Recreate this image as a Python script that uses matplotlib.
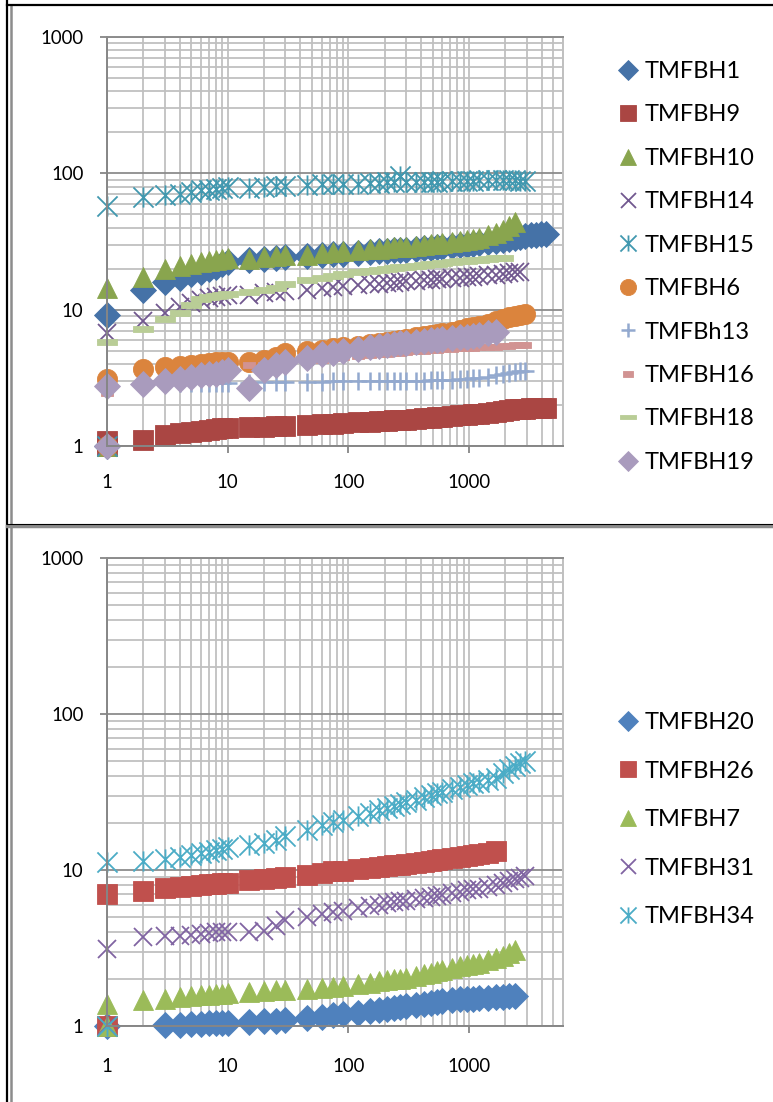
import matplotlib.pyplot as plt
from matplotlib.path import Path
from matplotlib.lines import Line2D
from matplotlib.ticker import FuncFormatter, NullFormatter

plt.rcParams['font.family'] = ['Lato', 'DejaVu Sans']

nan = float('nan')

# tempo; o primeiro ponto e o zero, que o Excel desenha em 1 no eixo log
x = [1, 1, 2, 3, 4, 5, 6, 7, 8, 9, 10,
     15, 20, 25, 30, 45, 60, 75, 90,
     120, 150, 180, 210, 240, 270, 300,
     360, 420, 480, 540, 600,
     720, 840, 960, 1080, 1200,
     1440, 1680, 1920, 2160, 2400, 2640, 2880,
     3240, 3600, 3960, 4320]

# painel de cima
tmfbh1 = [1, 9.2, 14, 16, 17.2, 18.2, 19, 19.8, 20.5, 21.5, 22.5,
          23, 23.5, 24, 24.3, 24.8, 25.2, 25.5, 25.8,
          26.2, 26.5, 26.8, 27, 27.2, 27.4, 27.6,
          27.9, 28.2, 28.4, 28.6, 28.8,
          29.2, 29.6, 30, 30.3, 30.6,
          31.2, 31.8, 32.4, 33, 33.5, 34, 34.5,
          35, 35.5, 35.8, 36]
tmfbh9 = [1, 1.08, 1.1, 1.2, 1.24, 1.27, 1.29, 1.31, 1.33, 1.35, 1.36,
          1.38, 1.39, 1.4, 1.41, 1.43, 1.45, 1.46, 1.48,
          1.5, 1.51, 1.52, 1.53, 1.54, 1.55, 1.56,
          1.58, 1.6, 1.61, 1.62, 1.64,
          1.66, 1.68, 1.7, 1.71, 1.72,
          1.75, 1.78, 1.81, 1.84, 1.86, 1.87, 1.88,
          1.89, 1.9, 1.9, 1.91]
tmfbh10 = [1, 14.5, 17.3, 19.8, 21, 21.8, 22.4, 22.9, 23.3, 23.6, 23.9,
           23.5, 24.3, 24.8, 25.2, 25.3, 26, 26.4, 26.8,
           27.3, 27.7, 28, 28.3, 28.6, 28.8, 29,
           29.4, 29.8, 30.1, 30.4, 30.7,
           31.3, 31.9, 32.5, 33.1, 33.7,
           35, 36.5, 38.5, 41, 44]
tmfbh14 = [1, 6.8, 8.2, 9.5, 10.5, 11.2, 11.7, 12.1, 12.4, 12.6, 12.8,
           12.9, 13.2, 13.5, 13.7, 14, 14.4, 14.6, 14.8,
           15.1, 15.3, 15.5, 15.7, 15.8, 16, 16.1,
           16.3, 16.5, 16.6, 16.7, 16.8,
           17, 17.2, 17.4, 17.5, 17.6,
           17.9, 18.1, 18.3, 18.6, 18.8, 19]
tmfbh15 = [1, 58, 67, 69, 71, 73, 75, 76, 77, 78, 79,
           78, 80, 81, 81, 82, 83, 84, 84,
           84, 85, 85, 86, 86, 96, 86,
           86, 87, 87, 87, 88,
           88, 88, 88, 88, 89,
           89, 89, 89, 89, 89, 88, 88]
tmfbh6 = [1, 3.1, 3.7, 3.8, 3.85, 3.9, 4.0, 4.05, 4.1, 4.1, 4.15,
          4.1, 4.3, 4.5, 4.8, 4.95, 5.1, 5.2, 5.3,
          5.45, 5.6, 5.7, 5.8, 5.9, 6.0, 6.1,
          6.25, 6.4, 6.5, 6.6, 6.7,
          6.9, 7.1, 7.3, 7.45, 7.6,
          7.9, 8.2, 8.5, 8.8, 9.0, 9.2, 9.3]
tmfbh13 = [1, 2.9, 2.9, 2.9, 2.9, 2.9, 2.9, 2.9, 2.9, 2.9, 2.9,
           2.9, 2.95, 2.95, 2.95, 2.95, 2.95, 3.0, 3.0,
           3.0, 3.0, 3.0, 3.0, 3.0, 3.0, 3.0,
           3.0, 3.02, 3.03, 3.04, 3.05,
           3.07, 3.09, 3.1, 3.13, 3.16,
           3.22, 3.3, 3.38, 3.45, 3.5, 3.55, 3.55]
tmfbh16 = [1, 2.45, 2.9, 3.1, 3.2, 3.3, 3.4, 3.45, 3.5, 3.55, 3.6,
           3.9, 3.95, 4.0, 4.0, 4.1, 4.3, 4.4, 4.5,
           4.6, 4.65, 4.7, 4.75, 4.8, 4.85, 4.9,
           4.95, 5.0, 5.05, 5.1, 5.12,
           5.15, 5.2, 5.22, 5.25, 5.28,
           5.32, 5.36, 5.4, 5.43, 5.46, 5.5, 5.5]
tmfbh18 = [1, 5.8, 7.2, 8.5, 9.5, 10.9, 12, 12.3, 12.6, 12.8, 13,
           13.5, 14, 14.5, 15.5, 16.4, 17.2, 17.8, 18.3,
           18.9, 19.3, 19.7, 20, 20.3, 20.5, 20.7,
           21, 21.3, 21.6, 21.8, 22,
           22.3, 22.6, 22.9, 23.1, 23.3,
           23.6, 23.9, 24.1]
tmfbh19 = [1, 2.75, 2.85, 3.0, 3.1, 3.2, 3.3, 3.35, 3.4, 3.5, 3.6,
           2.65, 3.6, 3.9, 4.1, 4.4, 4.7, 4.85, 5.0,
           5.15, 5.3, 5.4, 5.5, 5.6, 5.65, 5.7,
           5.8, 5.9, 5.95, 6.0, 6.05,
           6.15, 6.25, 6.35, 6.4, 6.5,
           6.7, 6.9]

# painel de baixo
tmfbh20 = [1, nan, nan, 1.01, 1.02, 1.03, 1.03, 1.04, 1.04, 1.05, 1.05,
           1.06, 1.07, 1.08, 1.09, 1.12, 1.15, 1.17, 1.19,
           1.22, 1.25, 1.27, 1.29, 1.31, 1.33, 1.34,
           1.37, 1.39, 1.41, 1.43, 1.44,
           1.46, 1.48, 1.49, 1.5, 1.51,
           1.52, 1.53, 1.54, 1.55, 1.56]
tmfbh26 = [1, 7.0, 7.3, 7.7, 7.8, 7.9, 8.0, 8.1, 8.15, 8.2, 8.3,
           8.6, 8.7, 8.9, 9.0, 9.3, 9.6, 9.8, 9.9,
           10.1, 10.3, 10.5, 10.6, 10.7, 10.8, 10.9,
           11.1, 11.3, 11.5, 11.6, 11.7,
           11.9, 12.1, 12.3, 12.5, 12.6,
           12.9, 13.2]
tmfbh7 = [1, 1.38, 1.47, 1.5, 1.53, 1.55, 1.57, 1.59, 1.6, 1.61, 1.62,
          1.65, 1.67, 1.69, 1.7, 1.73, 1.76, 1.79, 1.81,
          1.86, 1.9, 1.93, 1.96, 1.99, 2.01, 2.04,
          2.1, 2.15, 2.2, 2.24, 2.28,
          2.35, 2.41, 2.46, 2.5, 2.55,
          2.63, 2.72, 2.82, 2.95, 3.05]
tmfbh31 = [1, 3.1, 3.7, 3.75, 3.8, 3.85, 3.9, 3.95, 4.0, 4.0, 4.0,
           4.0, 4.05, 4.4, 4.8, 5.0, 5.2, 5.4, 5.5,
           5.7, 5.85, 6.0, 6.1, 6.2, 6.3, 6.35,
           6.5, 6.6, 6.75, 6.85, 6.95,
           7.1, 7.25, 7.4, 7.5, 7.6,
           7.8, 8.0, 8.3, 8.5, 8.7, 8.9, 9.1]
tmfbh34 = [1, 11.3, 11.4, 11.8, 12.1, 12.4, 12.8, 13.1, 13.4, 13.7, 14,
           14.5, 15, 15.6, 16.4, 18, 19.3, 20.3, 21,
           22.2, 23.2, 24.2, 25, 25.8, 26.5, 27.2,
           28.3, 29.3, 30.2, 31, 31.7,
           33, 34.1, 35.1, 36, 36.7,
           37.8, 39, 42, 44.5, 46.5, 48.5, 50]

# marcadores do Excel que o matplotlib nao tem
asterisco = Path([(-0.5, -0.5), (0.5, 0.5), (-0.5, 0.5), (0.5, -0.5), (0, -0.5), (0, 0.5)],
                 [Path.MOVETO, Path.LINETO] * 3)
traco_longo = Path([(-0.5, -0.14), (0.5, -0.14), (0.5, 0.14), (-0.5, 0.14), (-0.5, -0.14)], closed=True)
traco_curto = Path([(-0.5, -0.27), (0.5, -0.27), (0.5, 0.27), (-0.5, 0.27), (-0.5, -0.27)], closed=True)

series_cima = [
    ('TMFBH1', tmfbh1, 'D', 13, '#4572A7'),
    ('TMFBH9', tmfbh9, 's', 14.5, '#AA4643'),
    ('TMFBH10', tmfbh10, '^', 15, '#89A54E'),
    ('TMFBH14', tmfbh14, 'x', 13.5, '#71588F'),
    ('TMFBH15', tmfbh15, asterisco, 14.5, '#4198AF'),
    ('TMFBH6', tmfbh6, 'o', 14.5, '#DB843D'),
    ('TMFBh13', tmfbh13, '+', 13, '#93A9CF'),
    ('TMFBH16', tmfbh16, traco_curto, 9, '#D19392'),
    ('TMFBH18', tmfbh18, traco_longo, 15, '#B9CD96'),
    ('TMFBH19', tmfbh19, 'D', 13, '#A99BBD'),
]
series_baixo = [
    ('TMFBH20', tmfbh20, 'D', 13, '#4F81BD'),
    ('TMFBH26', tmfbh26, 's', 14.5, '#C0504D'),
    ('TMFBH7', tmfbh7, '^', 15, '#9BBB59'),
    ('TMFBH31', tmfbh31, 'x', 13.5, '#8064A2'),
    ('TMFBH34', tmfbh34, asterisco, 14.5, '#4BACC6'),
]

W, H = 773, 1102


def px(xp, yp):
    # pixel da imagem -> fracao da figura
    return xp / W, 1 - yp / H


def montar_eixo(ax, pad_x):
    ax.set_xscale('log')
    ax.set_yscale('log')
    ax.set_xlim(1, 6000)
    ax.set_ylim(1, 1000)
    ax.grid(True, which='minor', color='#C0C0C0', lw=1.3)
    ax.grid(True, which='major', axis='x', color='#C0C0C0', lw=1.3)
    ax.grid(True, which='major', axis='y', color='#8C8C8C', lw=1.3)
    ax.set_axisbelow(True)
    ax.spines['top'].set_color('#8C8C8C')
    ax.spines['right'].set_color('#C0C0C0')
    for s in ['left', 'bottom']:
        ax.spines[s].set_color('#868686')
    for s in ax.spines.values():
        s.set_linewidth(1.4)
    fmt = FuncFormatter(lambda v, p: f'{v:g}')
    ax.xaxis.set_major_formatter(fmt)
    ax.yaxis.set_major_formatter(fmt)
    ax.xaxis.set_minor_formatter(NullFormatter())
    ax.yaxis.set_minor_formatter(NullFormatter())
    ax.tick_params(which='major', direction='out', length=5, width=1.3, color='#868686',
                   labelsize=13.4)
    ax.tick_params(axis='x', which='major', pad=pad_x)
    ax.tick_params(axis='y', which='major', pad=12)
    ax.tick_params(which='minor', length=0)


def desenhar(ax, series):
    for nome, y, marcador, tamanho, cor in series:
        vazio = marcador in ('x', '+') or marcador is asterisco
        if marcador == '+':
            espessura = 1.8
        elif vazio:
            espessura = 1.3
        else:
            espessura = 0.6
        ax.plot(x[:len(y)], y, linestyle='none', marker=marcador, markersize=tamanho,
                color=cor, markeredgecolor=cor,
                markerfacecolor='none' if vazio else cor,
                markeredgewidth=espessura,
                clip_on=False, label=nome)


fig = plt.figure(figsize=(W / 100, H / 100), dpi=100)

# paineis, em pixels da referencia
l, t = px(107, 37)
r, b = px(563, 446)
ax1 = fig.add_axes([l, b, r - l, t - b])
l, t = px(107, 558)
r, b = px(563, 1026)
ax2 = fig.add_axes([l, b, r - l, t - b])

montar_eixo(ax1, 15)
montar_eixo(ax2, 18)
desenhar(ax1, series_cima)
desenhar(ax2, series_baixo)

ax1.legend(loc='upper left', bbox_to_anchor=px(616, 61), bbox_transform=fig.transFigure,
           frameon=False, fontsize=17, borderpad=0, handlelength=1.0, handletextpad=0.23,
           labelspacing=0.95, markerscale=0.8, borderaxespad=0)
ax2.legend(loc='upper left', bbox_to_anchor=px(616, 712), bbox_transform=fig.transFigure,
           frameon=False, fontsize=17, borderpad=0, handlelength=1.0, handletextpad=0.23,
           labelspacing=1.165, markerscale=0.8, borderaxespad=0)

# bordas (tabela do Word + area do grafico)
fig.add_artist(Line2D([7 / W, 7 / W], [0, 1], color='black', lw=1.6))
fig.add_artist(Line2D([11 / W, 11 / W], [0, 1 - 6 / H], color='#8C8C8C', lw=1.8))
fig.add_artist(Line2D([7 / W, 1], [1 - 5 / H, 1 - 5 / H], color='black', lw=1.6))
fig.add_artist(Line2D([7 / W, 1], [1 - 526 / H, 1 - 526 / H], color='#8C8C8C', lw=2.5))
fig.add_artist(Line2D([7 / W, 1], [1 - 524 / H, 1 - 524 / H], color='black', lw=0.8))

fig.savefig('out.png', dpi=100)
